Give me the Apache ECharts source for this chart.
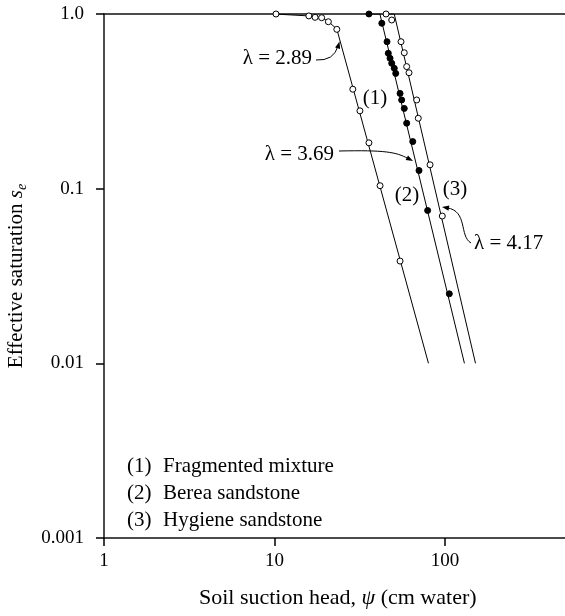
<!DOCTYPE html>
<html><head><meta charset="utf-8">
<script src="https://cdn.jsdelivr.net/npm/echarts@6/dist/echarts.min.js"></script>
<style>html,body{margin:0;padding:0;background:#fff}#c{width:565px;height:616px}</style>
</head><body><div id="c"></div>
<script>
// ---- data ----
const xTickLabels = ['1', '10', '100'];
const yTickLabels = ['0.001', '0.01', '0.1', '1.0'];

// (1) Fragmented mixture - measured points (open circles)
const mixPsi = [10.2, 15.9, 17.3, 18.9, 20.7, 23.2, 28.8, 31.7, 35.8, 41.6, 54.5];
const mixSe  = [1.0, 0.975, 0.957, 0.952, 0.903, 0.817, 0.371, 0.279, 0.183, 0.104, 0.0385];
// (1) fitted curve vertices
const mixFitPsi = [10, 15.9, 18.9, 20.7, 23.2, 80];
const mixFitSe  = [1.0, 0.975, 0.955, 0.905, 0.82, 0.01];

// (2) Berea sandstone - measured points (filled circles)
const bereaPsi = [35.8, 42.6, 45.7, 46.5, 47.6, 48.7, 50.4, 51.4, 54.5, 55.7, 57.7, 59.6, 64.7, 70.4, 79.1, 106];
const bereaSe  = [1.0, 0.885, 0.694, 0.596, 0.558, 0.522, 0.489, 0.457, 0.351, 0.322, 0.288, 0.237, 0.186, 0.127, 0.075, 0.025];
const bereaFitPsi = [35.8, 41.5, 130];
const bereaFitSe  = [1.0, 1.0, 0.01];

// (3) Hygiene sandstone - measured points (open circles)
const hygPsi = [45.1, 48.7, 55.2, 57.7, 59.6, 61.5, 68.2, 69.7, 81.7, 96.4];
const hygSe  = [1.0, 0.924, 0.694, 0.600, 0.500, 0.461, 0.322, 0.253, 0.137, 0.0697];
const hygFitPsi = [45, 50.4, 151];
const hygFitSe  = [1.0, 1.0, 0.01];

const lambdaLabels = ['λ = 2.89', 'λ = 3.69', 'λ = 4.17'];
const curveLabels = ['(1)', '(2)', '(3)'];
const legendNames = ['Fragmented mixture', 'Berea sandstone', 'Hygiene sandstone'];

// ---- build chart ----
const zip = (a, b) => a.map((v, i) => [v, b[i]]);
const FONT = '"Liberation Serif", "DejaVu Serif", serif';
const chart = echarts.init(document.getElementById('c'), null, { renderer: 'canvas' });

const axisLineStyle = { color: '#111', width: 1.5 };

function lineSeries(psi, se) {
  return { type: 'line', data: zip(psi, se), showSymbol: false, symbol: 'none',
           lineStyle: { color: '#000', width: 1 }, silent: true, z: 2 };
}
function pointSeries(psi, se, filled) {
  return { type: 'scatter', data: zip(psi, se), symbol: 'circle', symbolSize: 6,
           itemStyle: { color: filled ? '#000' : '#fff', borderColor: '#000', borderWidth: 1, opacity: 1 }, z: 3 };
}

function arrowHead(tx, ty, fx, fy) {
  const dx = tx - fx, dy = ty - fy, L = Math.hypot(dx, dy);
  const ux = dx / L, uy = dy / L, len = 7, hw = 2.6;
  const bx = tx - ux * len, by = ty - uy * len;
  return { type: 'polygon', shape: { points: [[tx, ty], [bx - uy * hw, by + ux * hw], [bx + uy * hw, by - ux * hw]] },
           style: { fill: '#000' }, z: 10 };
}
function txt(x, y, text, align, size) {
  return { type: 'text', x: x, y: y, z: 10,
           style: { text: text, font: (size || 21) + 'px ' + FONT, fill: '#000', align: align || 'left', verticalAlign: 'middle' } };
}

const graphics = [
  txt(312, 58, lambdaLabels[0], 'right'),
  { type: 'bezierCurve', shape: { x1: 316, y1: 60, cpx1: 334, cpy1: 61, x2: 338, y2: 46 }, style: { stroke: '#000', lineWidth: 1, fill: null }, z: 10 },
  arrowHead(339.5, 41.5, 334, 61),
  txt(334, 154, lambdaLabels[1], 'right'),
  { type: 'bezierCurve', shape: { x1: 339, y1: 151, cpx1: 385, cpy1: 150, cpx2: 396, cpy2: 152, x2: 408, y2: 158.5 }, style: { stroke: '#000', lineWidth: 1, fill: null }, z: 10 },
  arrowHead(413, 161, 398, 153),
  txt(474, 243, lambdaLabels[2], 'left'),
  { type: 'bezierCurve', shape: { x1: 471, y1: 243, cpx1: 459, cpy1: 236, cpx2: 468, cpy2: 211, x2: 447, y2: 207.8 }, style: { stroke: '#000', lineWidth: 1, fill: null }, z: 10 },
  arrowHead(442, 207, 468, 211),
  txt(375, 98, curveLabels[0], 'center'),
  txt(407, 195, curveLabels[1], 'center'),
  txt(455, 189, curveLabels[2], 'center')
];
const legendY = [466, 493, 520];
legendNames.forEach((n, i) => {
  graphics.push(txt(127, legendY[i], curveLabels[i], 'left'));
  graphics.push(txt(163, legendY[i], n, 'left'));
});

const option = {
  animation: false,
  backgroundColor: '#fff',
  textStyle: { fontFamily: FONT },
  grid: { left: 104, width: 511.5, top: 14, bottom: 78, containLabel: false, outerBoundsMode: 'none' },
  xAxis: [{
    type: 'log', logBase: 10, min: 1, max: 1000,
    name: '{t|Soil suction head, }{i|ψ}{t| (cm water)}',
    nameLocation: 'middle', nameGap: 47,
    nameTextStyle: { padding: [0, 44, 0, 0],
      rich: { t: { fontFamily: FONT, fontSize: 22, color: '#000', lineHeight: 26 },
              i: { fontFamily: FONT, fontSize: 22, fontStyle: 'italic', color: '#000', lineHeight: 26 } } },
    axisLine: { show: true, lineStyle: axisLineStyle },
    axisTick: { show: true, length: 8, lineStyle: { color: '#000', width: 1.5 } },
    axisLabel: { margin: 14, color: '#000', fontFamily: FONT, fontSize: 19,
      formatter: v => xTickLabels[Math.round(Math.log10(v))] || '' },
    splitLine: { show: false }, minorTick: { show: false }
  }, {
    type: 'log', logBase: 10, min: 1, max: 1000, position: 'top',
    axisLine: { show: true, lineStyle: axisLineStyle },
    axisTick: { show: false }, axisLabel: { show: false }, splitLine: { show: false }
  }],
  yAxis: {
    type: 'log', logBase: 10, min: 0.001, max: 1,
    name: '{t|Effective saturation }{i|s}{sub|e}',
    nameLocation: 'middle', nameGap: 75,
    nameTextStyle: {
      rich: { t: { fontFamily: FONT, fontSize: 21, color: '#000', lineHeight: 26 },
              i: { fontFamily: FONT, fontSize: 21, fontStyle: 'italic', color: '#000', lineHeight: 26 },
              sub: { fontFamily: FONT, fontSize: 14, fontStyle: 'italic', color: '#000', lineHeight: 15, verticalAlign: 'bottom' } } },
    axisLine: { show: true, lineStyle: axisLineStyle },
    axisTick: { show: true, length: 8, lineStyle: { color: '#000', width: 1.5 } },
    axisLabel: { margin: 20, color: '#000', fontFamily: FONT, fontSize: 19,
      formatter: v => yTickLabels[Math.round(Math.log10(v)) + 3] || '' },
    splitLine: { show: false }
  },
  series: [
    lineSeries(mixFitPsi, mixFitSe),
    lineSeries(bereaFitPsi, bereaFitSe),
    lineSeries(hygFitPsi, hygFitSe),
    pointSeries(mixPsi, mixSe, false),
    pointSeries(bereaPsi, bereaSe, true),
    pointSeries(hygPsi, hygSe, false)
  ],
  graphic: graphics
};
chart.setOption(option);
</script>
</body></html>
